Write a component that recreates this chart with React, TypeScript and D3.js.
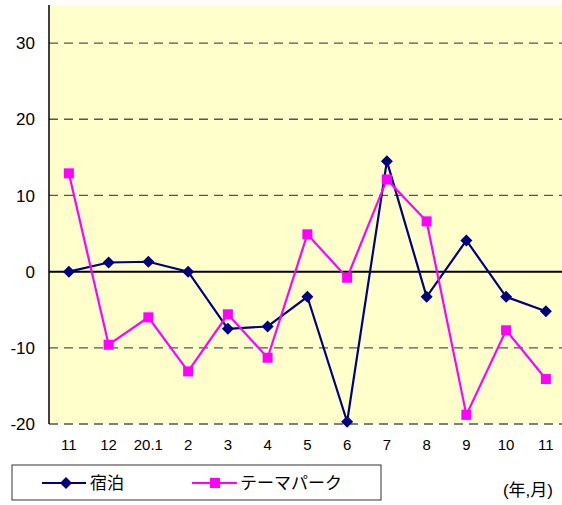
import * as d3 from "d3";

const months = ["11", "12", "20.1", "2", "3", "4", "5", "6", "7", "8", "9", "10", "11"];
const lodging = [0, 1.2, 1.3, 0, -7.5, -7.2, -3.3, -19.7, 14.5, -3.3, 4.1, -3.3, -5.2];
const themePark = [12.9, -9.6, -6.0, -13.1, -5.6, -11.3, 4.9, -0.8, 12.1, 6.6, -18.8, -7.7, -14.1];
const yTicks = [-20, -10, 0, 10, 20, 30];

const W = 562;
const H = 505;
const left = 49;
const top = 5;
const bottom = 424;
const bandW = 39.75;

const FONT = "'Liberation Sans', Arial, 'Noto Sans CJK JP', sans-serif";

// square diamond, a bit wider than d3.symbolDiamond
const diamond = "M0,-6L6,0L0,6L-6,0Z";

export default function App() {
  const keys = months.map((_, i) => String(i));
  const x = d3.scaleBand<string>().domain(keys).range([left, left + bandW * months.length]);
  const y = d3.scaleLinear().domain([-20, 35]).range([bottom, top]);
  const cx = (i: number) => (x(String(i)) ?? 0) + x.bandwidth() / 2;

  const line = d3
    .line<number>()
    .x((_, i) => cx(i))
    .y((d) => y(d));

  return (
    <svg width={W} height={H} style={{ display: "block", position: "absolute", left: 0, top: 0, overflow: "hidden" }}>
      <rect x={left} y={top} width={W - left} height={bottom - top} fill="#FFFFCC" />
      {yTicks
        .filter((t) => t !== 0)
        .map((t) => (
          <line key={t} x1={left} x2={W} y1={y(t)} y2={y(t)} stroke="#555" strokeWidth={1.3} strokeDasharray="9,6" />
        ))}
      <line x1={left} x2={W} y1={y(0)} y2={y(0)} stroke="#000" strokeWidth={2} />
      <line x1={left} x2={left} y1={top} y2={bottom} stroke="#000" strokeWidth={1.5} />
      {yTicks.map((t) => (
        <text key={t} x={35} y={y(t)} dy="0.36em" textAnchor="end" fontSize={17} fontFamily={FONT} fill="#000">
          {t}
        </text>
      ))}
      {months.map((m, i) => (
        <text key={i} x={cx(i)} y={450} textAnchor="middle" fontSize={15} fontFamily={FONT} fill="#000">
          {m}
        </text>
      ))}
      <path d={line(lodging) ?? ""} fill="none" stroke="#000080" strokeWidth={2.2} />
      {lodging.map((v, i) => (
        <path key={i} d={diamond} transform={`translate(${cx(i)},${y(v)})`} fill="#000080" />
      ))}
      <path d={line(themePark) ?? ""} fill="none" stroke="#FF00FF" strokeWidth={2.2} />
      {themePark.map((v, i) => (
        <rect key={i} x={cx(i) - 5} y={y(v) - 5} width={10} height={10} fill="#FF00FF" />
      ))}

      <rect x={12} y={465} width={369} height={35} fill="#fff" stroke="#333" strokeWidth={1} />
      <line x1={42} x2={86} y1={483} y2={483} stroke="#000080" strokeWidth={2.2} />
      <path d={diamond} transform="translate(66,483)" fill="#000080" />
      <text x={90} y={483} dy="0.36em" fontSize={17} fontFamily={FONT} fill="#000">
        宿泊
      </text>
      <line x1={192} x2={237} y1={483} y2={483} stroke="#FF00FF" strokeWidth={2.2} />
      <rect x={210} y={478} width={10} height={10} fill="#FF00FF" />
      <text x={240} y={483} dy="0.36em" fontSize={17} fontFamily={FONT} fill="#000">
        テーマパーク
      </text>
      <text x={553} y={490} dy="0.36em" textAnchor="end" fontSize={17} fontFamily={FONT} fill="#000">
        (年,月)
      </text>
    </svg>
  );
}
